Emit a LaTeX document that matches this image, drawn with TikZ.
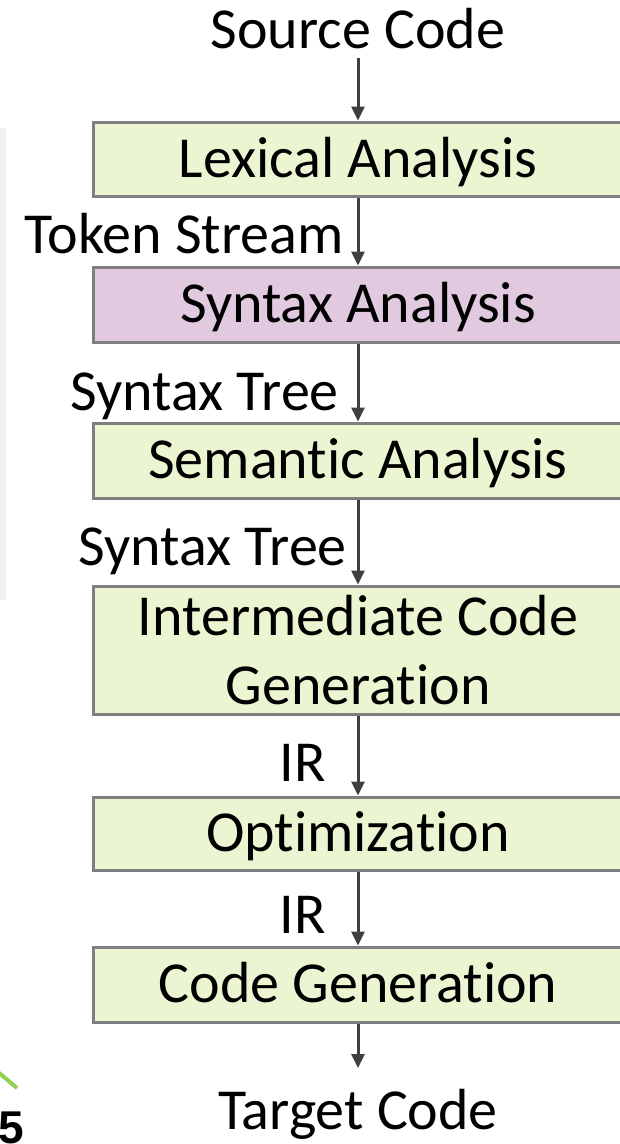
\documentclass[tikz,border=0pt]{standalone}
\usepackage{fontspec}
\setmainfont{Carlito}[RawFeature={-liga}]
\newfontfamily\numfont{Liberation Sans}
\usetikzlibrary{arrows.meta}
\definecolor{boxgreen}{HTML}{EBF5D1}
\definecolor{boxpurple}{HTML}{E1C9E0}
\definecolor{boxborder}{HTML}{7F7F7F}
\definecolor{arrowgray}{HTML}{404040}
\definecolor{panelgray}{HTML}{F2F2F2}
\definecolor{limegreen}{HTML}{92D050}
\tikzset{
  stage/.style={draw=boxborder, line width=3pt, fill=boxgreen, minimum width=530pt,
    inner sep=0pt, font=\fontsize{58}{69}\selectfont, text height=36pt, text depth=0pt},
  lbl/.style={inner sep=0pt, font=\fontsize{58}{69}\selectfont},
  flow/.style={draw=arrowgray, line width=3pt, -{Triangle[width=13pt,length=14pt]}}
}
\begin{document}
\begin{tikzpicture}[x=1pt,y=-1pt]
\useasboundingbox (0,0) rectangle (620,1144);
\clip (0,0) rectangle (620,1144);
% left side decorations
\fill[panelgray] (0,128) rectangle (6,600);
\draw[limegreen, line width=4pt] (-2,1072) -- (17,1088);
\node[anchor=base east, inner sep=0pt, font=\numfont\bfseries\fontsize{46}{46}\selectfont] (pagenum) at (24,1143) {5};
% stages
\node[stage, minimum height=74pt] (lex) at (358,159) {Lexical Analysis};
\node[stage, fill=boxpurple, minimum height=75pt] (syn) at (358,304.5) {Syntax Analysis};
\node[stage, minimum height=75pt] (sem) at (358,460.5) {Semantic Analysis};
\node[stage, minimum height=128pt, align=center, text height=, text depth=] (icg) at (358,650) {Intermediate Code\\Generation};
\node[stage, minimum height=73pt] (opt) at (358,833.5) {Optimization};
\node[stage, minimum height=75pt] (cg) at (358,984.5) {Code Generation};
% labels
\node[lbl, anchor=base] (src) at (358,48) {Source Code};
\node[lbl, anchor=base] (tgt) at (358,1129) {Target Code};
\node[lbl, anchor=base east] (l1) at (344,253) {Token Stream};
\node[lbl, anchor=base east] (l2) at (339,410) {Syntax Tree};
\node[lbl, anchor=base east] (l3) at (347,565) {Syntax Tree};
\node[lbl, anchor=base east] (l4) at (326,781) {IR};
\node[lbl, anchor=base east] (l5) at (326,933) {IR};
% connectors
\coordinate (srcend) at (358,58);
\coordinate (tgtend) at (358,1068);
\draw[flow] (srcend) -- (lex.north);
\draw[flow] (lex.south) -- (syn.north);
\draw[flow] (syn.south) -- (sem.north);
\draw[flow] (sem.south) -- (icg.north);
\draw[flow] (icg.south) -- (opt.north);
\draw[flow] (opt.south) -- (cg.north);
\draw[flow] (cg.south) -- (tgtend);
\end{tikzpicture}
\end{document}
